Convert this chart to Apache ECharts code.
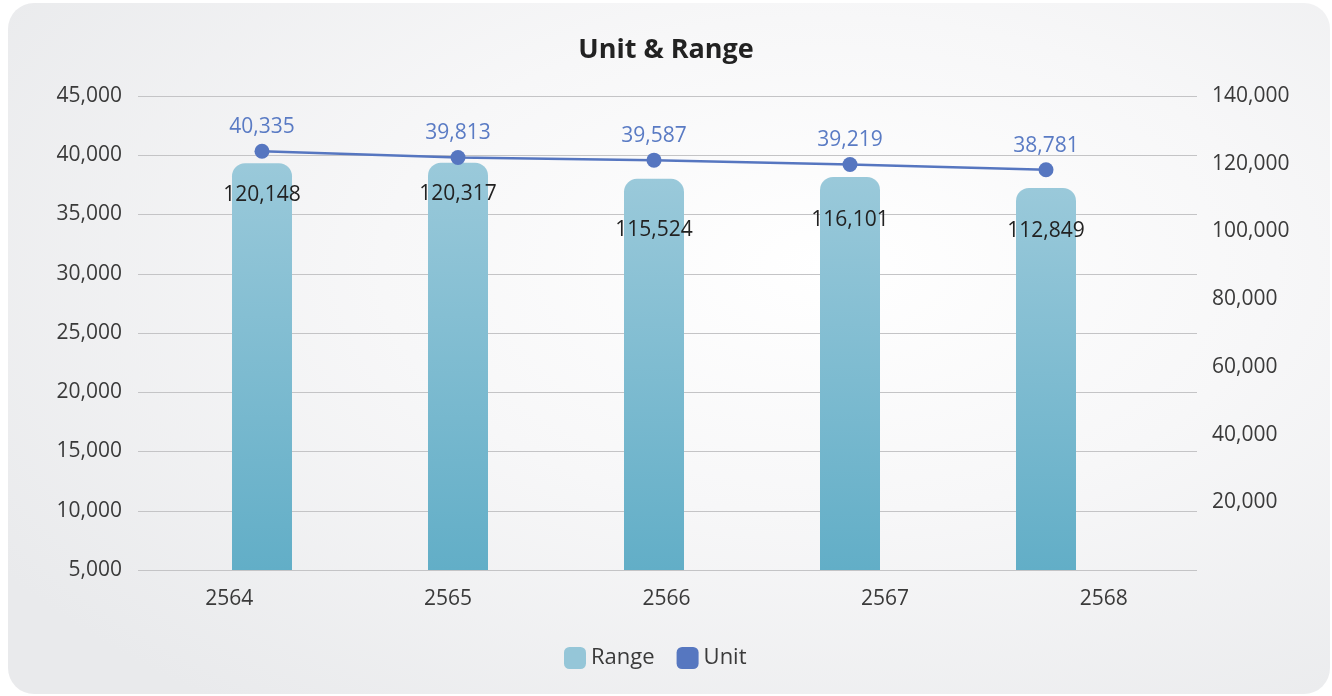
<!DOCTYPE html>
<html>
<head>
<meta charset="utf-8">
<script src="https://cdn.jsdelivr.net/npm/echarts@6/dist/echarts.min.js"></script>
<style>
  html, body { margin: 0; padding: 0; background: #ffffff; width: 1332px; height: 696px; overflow: hidden; }
  #card { position: absolute; left: 8px; top: 3px; width: 1322px; height: 691px; border-radius: 26px;
    background: radial-gradient(ellipse 75% 80% at 62% 38%, #ffffff 0%, #f7f7f8 45%, #e9eaec 100%); }
  #chart { position: absolute; left: 0; top: 0; width: 1332px; height: 696px; }
</style>
</head>
<body>
<div id="card"></div>
<div id="chart"></div>
<script>
const categories = ['2564', '2565', '2566', '2567', '2568'];
const rangeValues = [120148, 120317, 115524, 116101, 112849];
const unitValues = [40335, 39813, 39587, 39219, 38781];
const leftTicks = { min: 5000, max: 45000, interval: 5000 };
const rightTicks = { min: 0, max: 140000, interval: 20000 };
// label vertical nudges (styling only)
const rangeLabelDy = [0, 0, 20, 12, 12];

const fontFamily = '"Open Sans", "Noto Sans", sans-serif';
const fmt = v => Number(v).toLocaleString('en-US');
const gridTop = 96, gridBottom = 126;
const hiddenParts = () => ({
  axisLine: { show: false }, axisTick: { show: false },
  axisLabel: { show: false }, splitLine: { show: false }
});

const option = {
  backgroundColor: 'transparent',
  textStyle: { fontFamily },
  title: { text: 'Unit & Range', left: 'center', top: 32,
    textStyle: { fontSize: 27, fontWeight: 'bold', color: '#222', fontFamily } },
  legend: {
    top: 642, left: 559, itemWidth: 22, itemHeight: 22, itemGap: 22, icon: 'roundRect',
    textStyle: { fontSize: 22, color: '#3a3a3a', fontFamily },
    data: [
      { name: 'Range', itemStyle: { color: '#95c6d8' } },
      { name: 'Unit', itemStyle: { color: '#5677c0' } }
    ]
  },
  grid: [
    { left: 138, right: 135, top: gridTop, bottom: gridBottom },
    { left: 164, right: 188, top: gridTop, bottom: gridBottom },
    { left: 120, right: 119, top: gridTop, bottom: gridBottom }
  ],
  xAxis: [
    Object.assign({ type: 'category', gridIndex: 0, data: categories }, hiddenParts()),
    Object.assign({ type: 'category', gridIndex: 1, data: categories }, hiddenParts()),
    { type: 'category', gridIndex: 2, data: categories,
      axisLine: { show: false }, axisTick: { show: false }, splitLine: { show: false },
      axisLabel: { fontSize: 21, color: '#3a3a3a', margin: 19, fontFamily } }
  ],
  yAxis: [
    { type: 'value', gridIndex: 0, position: 'left', min: leftTicks.min, max: leftTicks.max, interval: leftTicks.interval,
      axisLine: { show: false }, axisTick: { show: false },
      axisLabel: { fontSize: 21, color: '#3a3a3a', margin: 16, formatter: fmt, fontFamily },
      splitLine: { lineStyle: { color: '#c4c4c6', width: 1.2 } } },
    { type: 'value', gridIndex: 0, position: 'right', min: rightTicks.min, max: rightTicks.max, interval: rightTicks.interval,
      axisLine: { show: false }, axisTick: { show: false }, splitLine: { show: false },
      axisLabel: { fontSize: 21, color: '#3a3a3a', margin: 15, fontFamily, formatter: v => v === 0 ? '' : fmt(v) } },
    Object.assign({ type: 'value', gridIndex: 1, position: 'left', min: leftTicks.min, max: leftTicks.max, interval: leftTicks.interval }, hiddenParts()),
    Object.assign({ type: 'value', gridIndex: 1, position: 'right', min: rightTicks.min, max: rightTicks.max, interval: rightTicks.interval }, hiddenParts()),
    Object.assign({ type: 'value', gridIndex: 2, position: 'left', min: leftTicks.min, max: leftTicks.max, interval: leftTicks.interval }, hiddenParts())
  ],
  series: [
    { name: 'Range', type: 'bar', xAxisIndex: 1, yAxisIndex: 3, barWidth: 60,
      itemStyle: { borderRadius: [13, 13, 0, 0],
        color: new echarts.graphic.LinearGradient(0, 0, 0, 1, [
          { offset: 0, color: '#9ac9da' }, { offset: 1, color: '#62aec7' } ]) },
      label: { show: true, position: 'insideTop', distance: 21, fontSize: 21, color: '#222', fontFamily, formatter: p => fmt(p.value) },
      data: rangeValues.map((v, i) => ({ value: v, label: { offset: [0, rangeLabelDy[i]] } })),
      z: 2 },
    { name: 'Unit', type: 'line', xAxisIndex: 1, yAxisIndex: 2, symbol: 'circle', symbolSize: 15,
      lineStyle: { color: '#5676c0', width: 2.5 }, itemStyle: { color: '#5676c0' },
      label: { show: true, position: 'top', distance: 6, fontSize: 21, color: '#5a7bc4', fontFamily, formatter: p => fmt(p.value) },
      data: unitValues.slice(), z: 3 }
  ]
};

const chart = echarts.init(document.getElementById('chart'));
chart.setOption(option);
</script>
</body>
</html>
